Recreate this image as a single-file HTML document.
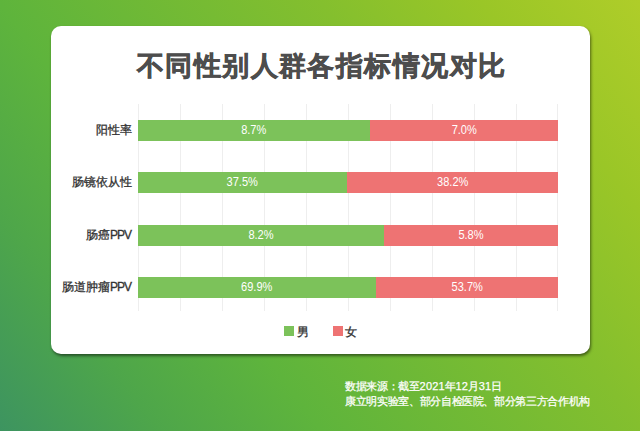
<!DOCTYPE html>
<html><head><meta charset="utf-8">
<style>
*{margin:0;padding:0;box-sizing:border-box}
html,body{width:640px;height:431px;overflow:hidden}
body{position:relative;font-family:"Liberation Sans",sans-serif;
background:linear-gradient(53deg,#3d9460 0%,#4ea64a 16.7%,#5eb43c 33.3%,#84bf2e 66.7%,#9ac627 83.3%,#afcd29 100%);}
.card{position:absolute;left:51px;top:26px;width:538.5px;height:327.5px;background:#fff;border-radius:10px;box-shadow:1px 2px 3px rgba(0,0,0,.5)}
.title{position:absolute;left:1px;top:48px;width:640px;text-align:center;font-size:27px;letter-spacing:1.45px;text-indent:1.45px;font-weight:bold;color:#4d4d4d;line-height:36px;white-space:nowrap;-webkit-text-stroke:0.6px #4d4d4d}
.grid{position:absolute;top:104px;height:207px;width:1px;background:#eeeeee}
.bar{position:absolute;height:21px}
.g{background:#7cc25a}
.p{background:#ee7373}
.v{position:absolute;color:#fff;font-size:13px;transform:scaleX(0.85);line-height:19px;text-align:center;white-space:nowrap}
.lab{position:absolute;right:508px;font-size:12px;color:#333;-webkit-text-stroke:0.3px #333;line-height:21px;white-space:nowrap;text-align:right}
.lg{position:absolute;top:326px;width:10px;height:10px}
.lt{position:absolute;top:324px;font-size:12px;color:#333;-webkit-text-stroke:0.3px #333;line-height:16px}
.d{letter-spacing:0.2px}
.ft{position:absolute;left:345px;color:#fff;-webkit-text-stroke:0.25px #fff;font-size:11px;letter-spacing:-0.35px;line-height:15.6px;white-space:nowrap}
</style></head><body>
<div class="card"></div>
<div class="title">不同性别人群各指标情况对比</div>

<div class="grid" style="left:138px"></div>
<div class="grid" style="left:180px"></div>
<div class="grid" style="left:222px"></div>
<div class="grid" style="left:264px"></div>
<div class="grid" style="left:306px"></div>
<div class="grid" style="left:348px"></div>
<div class="grid" style="left:390px"></div>
<div class="grid" style="left:432px"></div>
<div class="grid" style="left:474px"></div>
<div class="grid" style="left:516px"></div>
<div class="grid" style="left:557px"></div>

<!-- row 1 -->
<div class="lab" style="top:120px">阳性率</div>
<div class="bar g" style="top:120px;left:138px;width:231.5px"></div>
<div class="bar p" style="top:120px;left:369.5px;width:188.5px"></div>
<div class="v" style="top:120px;left:138px;width:231.5px">8.7%</div>
<div class="v" style="top:120px;left:369.5px;width:188.5px">7.0%</div>
<!-- row 2 -->
<div class="lab" style="top:172px">肠镜依从性</div>
<div class="bar g" style="top:172px;left:138px;width:208.5px"></div>
<div class="bar p" style="top:172px;left:346.5px;width:211.5px"></div>
<div class="v" style="top:172px;left:138px;width:208.5px">37.5%</div>
<div class="v" style="top:172px;left:346.5px;width:211.5px">38.2%</div>
<!-- row 3 -->
<div class="lab" style="top:224.5px">肠癌<span style="letter-spacing:-1px">PP</span>V</div>
<div class="bar g" style="top:224.5px;left:138px;width:246px"></div>
<div class="bar p" style="top:224.5px;left:384px;width:174px"></div>
<div class="v" style="top:224.5px;left:138px;width:246px">8.2%</div>
<div class="v" style="top:224.5px;left:384px;width:174px">5.8%</div>
<!-- row 4 -->
<div class="lab" style="top:276.8px">肠道肿瘤<span style="letter-spacing:-1px">PP</span>V</div>
<div class="bar g" style="top:276.8px;left:138px;width:237.5px"></div>
<div class="bar p" style="top:276.8px;left:375.5px;width:182.5px"></div>
<div class="v" style="top:276.8px;left:138px;width:237.5px">69.9%</div>
<div class="v" style="top:276.8px;left:375.5px;width:182.5px">53.7%</div>

<div class="lg g" style="left:284px"></div>
<div class="lt" style="left:297px">男</div>
<div class="lg p" style="left:333px"></div>
<div class="lt" style="left:345px">女</div>

<div class="ft" style="top:378.6px">数据来源：截至<span class="d">2021</span>年<span class="d">12</span>月<span class="d">31</span>日</div>
<div class="ft" style="top:394.2px">康立明实验室、部分自检医院、部分第三方合作机构</div>
</body></html>
